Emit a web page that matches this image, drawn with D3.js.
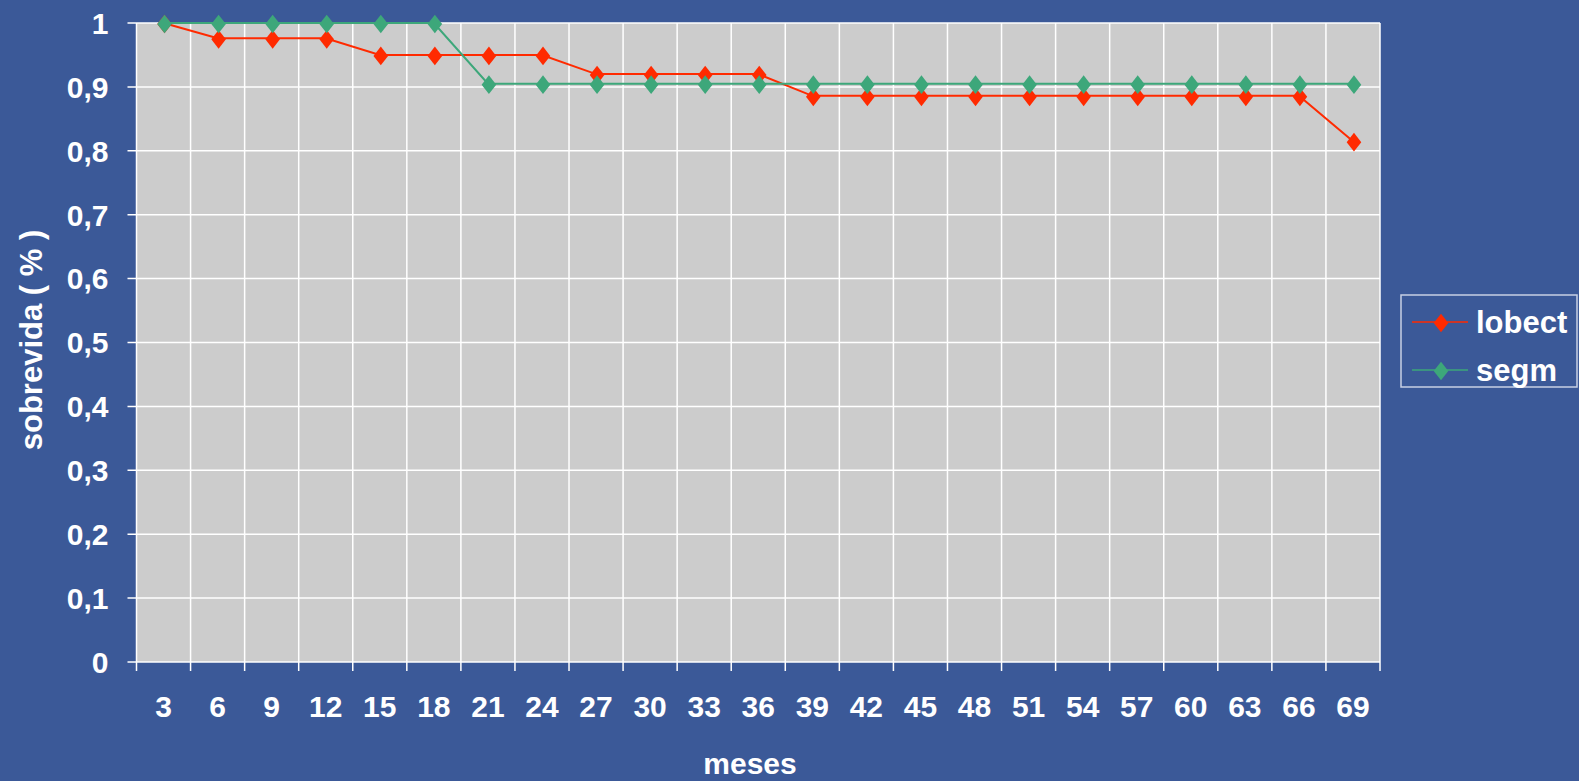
<!DOCTYPE html>
<html>
<head>
<meta charset="utf-8">
<script src="https://cdn.jsdelivr.net/npm/d3@7"></script>
<style>
  body { margin: 0; background: #3b5998; }
  text { font-family: "Liberation Sans", Arial, sans-serif; font-weight: bold; fill: #fff; }
</style>
</head>
<body>
<div id="chart"></div>
<script>
const meses = [3, 6, 9, 12, 15, 18, 21, 24, 27, 30, 33, 36, 39, 42, 45, 48, 51, 54, 57, 60, 63, 66, 69];
const lobect = [1, 0.976, 0.976, 0.976, 0.95, 0.95, 0.95, 0.95, 0.92, 0.92, 0.92, 0.92, 0.886, 0.886, 0.886, 0.886, 0.886, 0.886, 0.886, 0.886, 0.886, 0.886, 0.815];
const segm = [1, 1, 1, 1, 1, 1, 0.905, 0.905, 0.905, 0.905, 0.905, 0.905, 0.905, 0.905, 0.905, 0.905, 0.905, 0.905, 0.905, 0.905, 0.905, 0.905, 0.905];
const yTicks = [0, 0.1, 0.2, 0.3, 0.4, 0.5, 0.6, 0.7, 0.8, 0.9, 1];

const series = [
    { name: 'lobect', values: lobect, color: '#ff2a00', width: 2 },
    { name: 'segm', values: segm, color: '#3da77a', width: 2 }
];

const width = 1579, height = 781;
const margin = { top: 23, right: 199, bottom: 119, left: 136.5 };
const innerW = width - margin.left - margin.right;
const innerH = height - margin.top - margin.bottom;

const svg = d3.select('#chart').append('svg')
    .attr('width', width)
    .attr('height', height);

svg.append('rect')
    .attr('width', width)
    .attr('height', height)
    .attr('fill', '#3b5998');

const chart = svg.append('g')
    .attr('transform', `translate(${margin.left},${margin.top})`);

const x = d3.scaleBand().domain(meses).range([0, innerW]);
const y = d3.scaleLinear().domain([0, 1]).range([innerH, 0]);

// plot area
chart.append('rect')
    .attr('width', innerW)
    .attr('height', innerH)
    .attr('fill', '#cccccc');

// horizontal grid
chart.selectAll('.hgrid')
    .data(yTicks)
    .join('line')
    .attr('class', 'hgrid')
    .attr('x1', -9).attr('x2', innerW)
    .attr('y1', d => y(d)).attr('y2', d => y(d))
    .attr('stroke', '#fff')
    .attr('stroke-width', 1.5);

// vertical grid at category boundaries
const bounds = meses.map(d => x(d)).concat([innerW]);
chart.selectAll('.vgrid')
    .data(bounds)
    .join('line')
    .attr('class', 'vgrid')
    .attr('x1', d => d).attr('x2', d => d)
    .attr('y1', 0).attr('y2', innerH + 9)
    .attr('stroke', '#fff')
    .attr('stroke-width', 1.5);

// y tick labels
chart.selectAll('.ylabel')
    .data(yTicks)
    .join('text')
    .attr('class', 'ylabel')
    .attr('x', -28)
    .attr('y', d => y(d))
    .attr('dy', '0.36em')
    .attr('text-anchor', 'end')
    .style('font-size', '30px')
    .text(d => d3.format('.1~f')(d).replace('.', ','));

// x tick labels
chart.selectAll('.xlabel')
    .data(meses)
    .join('text')
    .attr('class', 'xlabel')
    .attr('x', d => x(d) + x.bandwidth() / 2)
    .attr('y', innerH + 55)
    .attr('text-anchor', 'middle')
    .style('font-size', '30px')
    .text(d => d);

// axis titles
svg.append('text')
    .attr('x', 750)
    .attr('y', 774)
    .attr('text-anchor', 'middle')
    .style('font-size', '30px')
    .text('meses');

svg.append('text')
    .attr('transform', 'translate(42,340) rotate(-90)')
    .attr('text-anchor', 'middle')
    .style('font-size', '31px')
    .text('sobrevida ( % )');

// lines and markers
const line = d3.line()
    .x((d, i) => x(meses[i]) + x.bandwidth() / 2)
    .y(d => y(d));

const diamond = d3.symbol().type(d3.symbolDiamond).size(140);

series.forEach(s => {
    chart.append('path')
        .datum(s.values)
        .attr('d', line)
        .attr('fill', 'none')
        .attr('stroke', s.color)
        .attr('stroke-width', s.width);

    chart.selectAll('.mk-' + s.name)
        .data(s.values)
        .join('path')
        .attr('class', 'mk-' + s.name)
        .attr('d', diamond)
        .attr('transform', (d, i) => `translate(${x(meses[i]) + x.bandwidth() / 2 + 1},${y(d) + 1}) scale(1.15,0.85)`)
        .attr('fill', s.color);
});

// legend
const legend = svg.append('g')
    .attr('transform', 'translate(1401,295)');

legend.append('rect')
    .attr('width', 176)
    .attr('height', 92)
    .attr('fill', 'none')
    .attr('stroke', '#c8d0e4')
    .attr('stroke-width', 1.5);

const legendItems = legend.selectAll('.legend-item')
    .data(series)
    .join('g')
    .attr('class', 'legend-item')
    .attr('transform', (d, i) => `translate(0,${27 + i * 48})`);

legendItems.append('line')
    .attr('x1', 11).attr('x2', 67)
    .attr('stroke', d => d.color)
    .attr('stroke-width', 1.5);

legendItems.append('path')
    .attr('d', diamond)
    .attr('transform', 'translate(40,1) scale(1.15,0.85)')
    .attr('fill', d => d.color);

legendItems.append('text')
    .attr('x', 75)
    .attr('dy', '0.36em')
    .style('font-size', '31px')
    .text(d => d.name);
</script>
</body>
</html>
